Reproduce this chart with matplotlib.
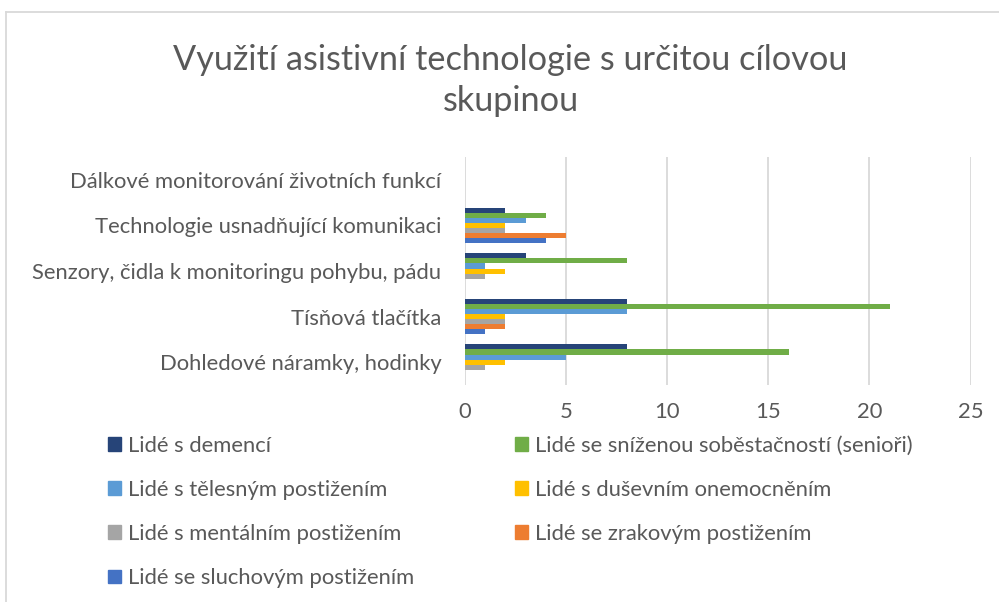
import matplotlib.pyplot as plt
import numpy as np
from matplotlib.lines import Line2D
from matplotlib.patches import Patch

plt.rcParams['font.family'] = ['Lato', 'DejaVu Sans']

# Categories from bottom to top (Excel order)
categories = [
	'Dohledové náramky, hodinky',
	'Tísňová tlačítka',
	'Senzory, čidla k monitoringu pohybu, pádu',
	'Technologie usnadňující komunikaci',
	'Dálkové monitorování životních funkcí',
]

series_names = [
	'Lidé s demencí',
	'Lidé se sníženou soběstačností (senioři)',
	'Lidé s tělesným postižením',
	'Lidé s duševním onemocněním',
	'Lidé s mentálním postižením',
	'Lidé se zrakovým postižením',
	'Lidé se sluchovým postižením',
]

# values per series, same order as categories
demence = [8, 8, 3, 2, 0]
seniori = [16, 21, 8, 4, 0]
telesne = [5, 8, 1, 3, 0]
dusevni = [2, 2, 2, 2, 0]
mentalni = [1, 2, 1, 2, 0]
zrakove = [0, 2, 0, 5, 0]
sluchove = [0, 1, 0, 4, 0]

colors = ['#264478', '#70AD47', '#5B9BD5', '#FFC000', '#A5A5A5', '#ED7D31', '#4472C4']
values = [demence, seniori, telesne, dusevni, mentalni, zrakove, sluchove]

TEXT = '#595959'
FS = 15.8

fig = plt.figure(figsize=(9.99, 6.02), dpi=100)
ax = fig.add_axes([0.4655, 0.3605, 0.506, 0.3785])

n = len(series_names)
h = 0.78 / n
y = np.arange(len(categories))
for j, (vals, col) in enumerate(zip(values, colors)):
	ax.barh(y + (3 - j) * h, vals, height=h, color=col, zorder=3)

ax.set_xlim(0, 25)
ax.set_ylim(-0.5, len(categories) - 0.5)
ax.set_xticks(range(0, 26, 5))
ax.set_yticks(y)
ax.set_yticklabels(categories)
ax.grid(axis='x', color='#D9D9D9', linewidth=1.3, zorder=0)
for s in ax.spines.values():
	s.set_visible(False)
ax.tick_params(length=0, colors=TEXT, labelsize=FS)
ax.tick_params(axis='x', pad=12)
ax.tick_params(axis='y', pad=17)

fig.text(0.511, 0.867, 'Využití asistivní technologie s určitou cílovou\nskupinou',
	ha='center', va='center', fontsize=24.7, color=TEXT, linespacing=1.35)

# legend, row-major like Excel
order = [0, 2, 4, 6, 1, 3, 5]
handles = [Patch(color=colors[k]) for k in order]
labels = [series_names[k] for k in order]
fig.legend(handles, labels, ncol=2, loc='upper left', bbox_to_anchor=(0.108, 0.276),
	frameon=False, fontsize=FS, labelcolor=TEXT, handlelength=0.6, handleheight=0.6,
	handletextpad=0.3, labelspacing=1.1, columnspacing=4.6, borderpad=0, borderaxespad=0)

# chart border
fig.add_artist(Line2D([0.006, 1.0], [0.98, 0.98], color='#D9D9D9', lw=1.3))
fig.add_artist(Line2D([0.006, 0.006], [0.0, 0.98], color='#D9D9D9', lw=1.3))

fig.savefig('out.png', dpi=100)
